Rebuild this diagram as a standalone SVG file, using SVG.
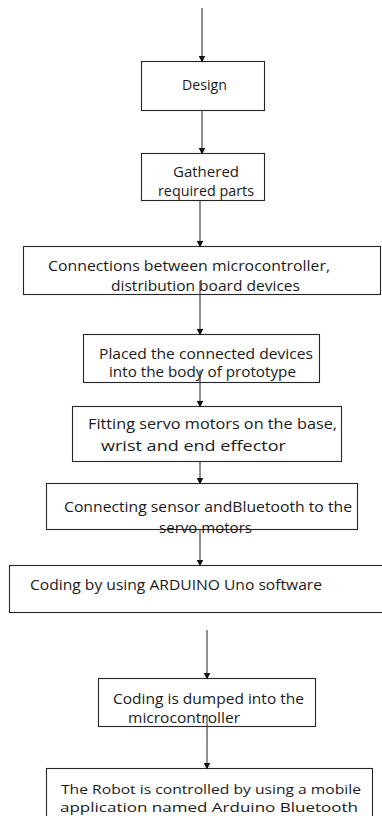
<svg xmlns="http://www.w3.org/2000/svg" width="382" height="816" viewBox="0 0 382 816">
<style>
.box{fill:#fff;stroke:#262626;stroke-width:1.1}
.t{font-family:"Open Sans","Liberation Sans",sans-serif;font-size:14px;fill:#1a1a1a}
.s{font-size:13.5px}
.c{stroke:#333;stroke-width:1.1;fill:none;marker-end:url(#ah)}
</style>
<defs>
<marker id="ah" markerWidth="7" markerHeight="7" refX="6" refY="3.5" orient="auto" markerUnits="userSpaceOnUse">
<path d="M0,0 L7,3.5 L0,7 Z" fill="#111"/>
</marker>
</defs>
<rect width="382" height="816" fill="#fff"/>
<g id="n1"><rect class="box" x="141.5" y="61.5" width="123" height="49"/>
<text class="t" x="182" y="90" textLength="45" lengthAdjust="spacingAndGlyphs">Design</text></g>
<g id="n2"><rect class="box" x="141.5" y="153.5" width="123" height="47"/>
<text class="t" x="173" y="177" textLength="66" lengthAdjust="spacingAndGlyphs">Gathered</text>
<text class="t" x="158" y="196" textLength="96" lengthAdjust="spacingAndGlyphs">required parts</text></g>
<g id="n3"><rect class="box" x="23.5" y="246.5" width="357" height="48"/>
<text class="t" x="48" y="271" textLength="282" lengthAdjust="spacingAndGlyphs">Connections between microcontroller,</text>
<text class="t" x="111" y="291" textLength="189" lengthAdjust="spacingAndGlyphs">distribution board devices</text></g>
<g id="n4"><rect class="box" x="83.5" y="334.5" width="236" height="48"/>
<text class="t" x="99" y="359" textLength="214" lengthAdjust="spacingAndGlyphs">Placed the connected devices</text>
<text class="t" x="109" y="377" textLength="187" lengthAdjust="spacingAndGlyphs">into the body of prototype</text></g>
<g id="n5"><rect class="box" x="72.5" y="406.5" width="269" height="55"/>
<text class="t" x="88" y="429" textLength="249" lengthAdjust="spacingAndGlyphs">Fitting servo motors on the base,</text>
<text class="t" x="101" y="451" textLength="185" lengthAdjust="spacingAndGlyphs">wrist and end effector</text></g>
<g id="n6"><rect class="box" x="46.5" y="483.5" width="311" height="46"/>
<text class="t" x="64" y="512" textLength="288" lengthAdjust="spacingAndGlyphs">Connecting sensor  andBluetooth  to the</text>
<text class="t" x="159" y="533" textLength="93" lengthAdjust="spacingAndGlyphs">servo motors</text></g>
<g id="n7"><rect class="box" x="9.5" y="565.5" width="390" height="47"/>
<text class="t" x="30" y="590" textLength="292" lengthAdjust="spacingAndGlyphs">Coding by using ARDUINO Uno software</text></g>
<g id="n8"><rect class="box" x="98.5" y="678.5" width="217" height="48"/>
<text class="t" x="113" y="704" textLength="191" lengthAdjust="spacingAndGlyphs">Coding is dumped into the</text>
<text class="t" x="128" y="723" textLength="112" lengthAdjust="spacingAndGlyphs">microcontroller</text></g>
<g id="n9"><rect class="box" x="46.5" y="768.5" width="326" height="60"/>
<text class="t s" x="61" y="794" textLength="300" lengthAdjust="spacingAndGlyphs">The Robot is controlled by using a mobile</text>
<text class="t s" x="60" y="812" textLength="298" lengthAdjust="spacingAndGlyphs">application named Arduino Bluetooth</text></g>
<g id="connectors">
<line class="c" x1="202" y1="8" x2="202" y2="61.5"/>
<line class="c" x1="202" y1="110.5" x2="202" y2="153.5"/>
<line class="c" x1="200" y1="200.5" x2="200" y2="246.5"/>
<line class="c" x1="200" y1="281" x2="200" y2="334.5"/>
<line class="c" x1="200" y1="370" x2="200" y2="406.5"/>
<line class="c" x1="200" y1="461.5" x2="200" y2="483.5"/>
<line class="c" x1="200" y1="529.5" x2="200" y2="565.5"/>
<line class="c" x1="207" y1="630" x2="207" y2="678.5"/>
<line class="c" x1="207" y1="716" x2="207" y2="768.5"/>
</g>
</svg>
